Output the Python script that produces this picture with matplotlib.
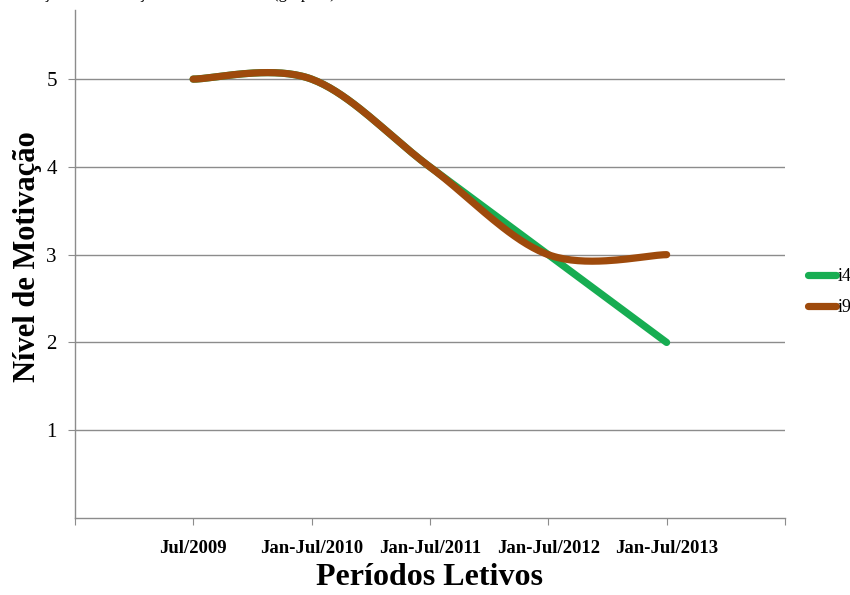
import numpy as np
import matplotlib.pyplot as plt

plt.rcParams['font.family'] = ['Liberation Serif', 'DejaVu Serif']

# Dados do gráfico
periodos = ['Jul/2009', 'Jan-Jul/2010', 'Jan-Jul/2011', 'Jan-Jul/2012', 'Jan-Jul/2013']
i4 = [5, 5, 4, 3, 2]
i9 = [5, 5, 4, 3, 3]
titulo = 'Evolução da Motivação do aluno i4 e i9 (grupo 1)'

COR_I4 = '#17AD52'
COR_I9 = '#9E4A0C'
COR_EIXO = '#8C8C8C'


def suavizar(xs, ys, n=40):
    """Curva suavizada estilo Excel: Bezier com tangentes Catmull-Rom."""
    pts = np.column_stack([xs, ys]).astype(float)
    out = [pts[0]]
    t = np.linspace(0, 1, n)[1:, None]
    for k in range(len(pts) - 1):
        p0 = pts[max(k - 1, 0)]
        p1 = pts[k]
        p2 = pts[k + 1]
        p3 = pts[min(k + 2, len(pts) - 1)]
        c1 = p1 + (p2 - p0) / 6
        c2 = p2 - (p3 - p1) / 6
        seg = (1 - t) ** 3 * p1 + 3 * (1 - t) ** 2 * t * c1 + 3 * (1 - t) * t ** 2 * c2 + t ** 3 * p2
        out.extend(seg)
    out = np.array(out)
    return out[:, 0], out[:, 1]


fig = plt.figure(figsize=(8.5, 5.95), dpi=100)
ax = fig.add_axes([0.088, 0.1294, 0.8355, 0.8536])

x = np.arange(1, len(periodos) + 1)
for serie, cor, nome in [(i4, COR_I4, 'i4'), (i9, COR_I9, 'i9')]:
    xs, ys = suavizar(x, serie)
    ax.plot(xs, ys, color=cor, lw=5.2, solid_capstyle='round',
            solid_joinstyle='round', label=nome, zorder=3)

ax.set_xlim(0, len(periodos) + 1)
ax.set_ylim(0, 5.786)

# grade horizontal e eixos
ax.set_yticks([1, 2, 3, 4, 5])
ax.yaxis.grid(True, color=COR_EIXO, lw=1)
ax.set_axisbelow(True)
for lado in ['top', 'right']:
    ax.spines[lado].set_visible(False)
for lado in ['left', 'bottom']:
    ax.spines[lado].set_color(COR_EIXO)
    ax.spines[lado].set_linewidth(1)

ax.set_xticks(np.arange(0, len(periodos) + 2))
ax.set_xticklabels([''] + periodos + [''], fontsize=13.5, fontweight='bold')
ax.tick_params(axis='x', length=5, color=COR_EIXO, pad=11)
ax.tick_params(axis='y', length=5, color=COR_EIXO, labelsize=15, pad=8)

ax.set_xlabel('Períodos Letivos', fontsize=23, fontweight='bold', labelpad=4)
ax.set_ylabel('Nível de Motivação', fontsize=22, fontweight='bold')
ax.yaxis.set_label_coords(-0.046, 0.515)

fig.legend(loc='center left', bbox_to_anchor=(0.951, 0.509), frameon=False,
           fontsize=13, handlelength=1.55, handletextpad=0.05, labelspacing=0.75,
           borderpad=0, borderaxespad=0)

# título cortado no topo da figura
fig.text(0.004, 1.0 + 1.5 / 595, titulo, fontsize=12, va='baseline', ha='left')

fig.savefig('out.png', dpi=100)
